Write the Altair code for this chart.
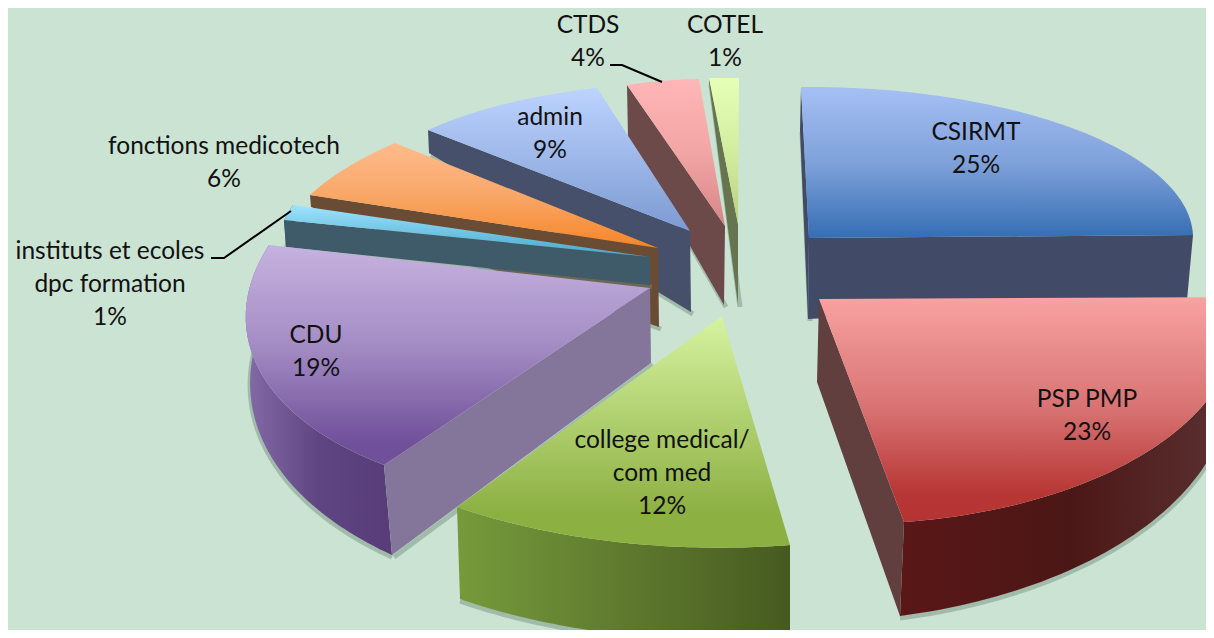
import numpy as np
import pandas as pd
import altair as alt

BG = "#cbe3d3"
FONT = "Lato"

categories = ["COTEL", "CTDS", "admin", "fonctions medicotech", "instituts et ecoles dpc formation",
              "CDU", "CSIRMT", "college medical/ com med", "PSP PMP"]
percents = [1, 4, 9, 6, 1, 19, 25, 12, 23]
# clockwise order of the pie, from 12 o'clock
pie_order = ["CSIRMT", "PSP PMP", "college medical/ com med", "CDU", "instituts et ecoles dpc formation",
             "fonctions medicotech", "admin", "CTDS", "COTEL"]

label_lines = {
    "CSIRMT": ["CSIRMT"], "PSP PMP": ["PSP PMP"], "college medical/ com med": ["college medical/", "com med"],
    "CDU": ["CDU"], "instituts et ecoles dpc formation": ["instituts et ecoles", "dpc formation"],
    "fonctions medicotech": ["fonctions medicotech"], "admin": ["admin"], "CTDS": ["CTDS"], "COTEL": ["COTEL"],
}
label_pos = {
    "CSIRMT": (976, 133), "PSP PMP": (1087, 400), "college medical/ com med": (662, 441), "CDU": (316, 336),
    "instituts et ecoles dpc formation": (110, 252), "fonctions medicotech": (224, 147), "admin": (550, 118),
    "CTDS": (588, 26), "COTEL": (725, 26),
}

# perspective view of each exploded slice: apex, rim ends, and depth vectors
view = {
    "CSIRMT": dict(a=(809, 238), s=(801, 87), e=(1193, 235), da=(-1, 81), ds=(-1, 43), de=(-6, 65),
                   faces="se", rim=False, face="#414a66", rimc=["#414a66", "#414a66"],
                   top=[(0, "#a5c0f4"), (.5, "#7fa1da"), (1, "#356eb4")]),
    "PSP PMP": dict(a=(819, 299), s=(1239, 297), e=(904, 522), da=(-2, 83), ds=(-8, 60), de=(-4, 94),
                    faces="e", rim=True, face="#623f3f", rimc=["#5a1717", "#4b1716", "#5c3333"],
                    top=[(0, "#f9a2a2"), (.5, "#d87272"), (.87, "#b73735"), (1, "#b53433")]),
    "college medical/ com med": dict(a=(722, 316), s=(790, 545), e=(457, 507), da=(0, 80), ds=(0, 92), de=(3, 92),
                    faces="", rim=True, face="#6f8a3a", rimc=["#769a3b", "#5f7a2e", "#465a20"],
                    top=[(0, "#d6f3a0"), (.85, "#8db043"), (1, "#8db043")]),
    "CDU": dict(a=(650, 288), s=(384, 465), e=(269, 245), da=(1, 75), ds=(8, 90), de=(3, 60),
                faces="s", rim=True, face="#83769a", rimc=["#846aa6", "#5f4582", "#573c78"],
                top=[(0, "#c6b2e0"), (.45, "#a48dc4"), (.9, "#70509a"), (1, "#70509a")]),
    "instituts et ecoles dpc formation": dict(a=(650, 257), s=(284, 220), e=(293, 205), da=(0, 28), ds=(2, 27), de=(2, 20),
                faces="s", rim=True, face="#3f5a68", rimc=["#3f5a68", "#3f5a68"],
                top=[(0, "#a0e3ff"), (1, "#45a8c8")]),
    "fonctions medicotech": dict(a=(658, 248), s=(310, 195), e=(395, 143), da=(1, 79), ds=(1, 12), de=(0, 8),
                faces="s", rim=False, face="#6a4c35", rimc=["#6a4c35", "#6a4c35"],
                top=[(0, "#ffbb8c"), (.5, "#f9a768"), (1, "#f58526")]),
    "admin": dict(a=(690, 231), s=(428, 130), e=(597, 88), da=(1, 81), ds=(1, 23), de=(0, 15),
                faces="s", rim=False, face="#46506a", rimc=["#46506a", "#46506a"],
                top=[(0, "#bdd3ff"), (1, "#7c9bd2")]),
    "CTDS": dict(a=(725, 226), s=(627, 85), e=(699, 79), da=(-1, 79), ds=(1, 53), de=(0, 40),
                faces="s", rim=False, face="#6c4a4a", rimc=["#6c4a4a", "#6c4a4a"],
                top=[(0, "#ffb6b6"), (.5, "#f2a5a5"), (1, "#d78585")]),
    "COTEL": dict(a=(738, 224), s=(709, 78), e=(739, 78), da=(0, 81), ds=(0, 5), de=(0, 5),
                faces="s", rim=False, face="#66744f", rimc=["#66744f", "#66744f"],
                top=[(0, "#e6ffb6"), (.5, "#d3eda0"), (1, "#b9cf80")]),
}
leaders = {"CTDS": [(610, 65), (622, 65), (662, 82)], "instituts": [(211, 258), (224, 258), (291, 211)]}

value_of = dict(zip(categories, percents))
bounds = {}
acc = 0.0
for name in pie_order:
    bounds[name] = (acc * 3.6, (acc + value_of[name]) * 3.6)
    acc += value_of[name]

xs = alt.Scale(domain=[8, 1206], nice=False, zero=False)
ys = alt.Scale(domain=[630, 8], nice=False, zero=False)


def rim_arc(name, n=60):
    v = view[name]
    t0, t1 = np.radians(bounds[name])
    a, s, e = map(np.array, (v["a"], v["s"], v["e"]))
    # linear map that sends the circle's two slice ends onto the drawn rim ends
    M = np.array([[np.sin(t0), -np.cos(t0)], [np.sin(t1), -np.cos(t1)]])
    UV = np.linalg.solve(M, np.vstack([s - a, e - a]))
    tt = np.linspace(t0, t1, n)
    pts = a + np.column_stack([np.sin(tt), -np.cos(tt)]) @ UV
    f = np.linspace(0, 1, n)[:, None]
    ext = (1 - f) * np.array(v["ds"]) + f * np.array(v["de"])
    return pts, pts + ext


def poly(points, fill, closed=True):
    pts = [tuple(p) for p in points]
    if closed:
        pts.append(pts[0])
    df = pd.DataFrame(pts, columns=["x", "y"])
    df["i"] = range(len(df))
    return alt.Chart(df).mark_line(fill=fill, stroke="transparent", strokeWidth=0, interpolate="linear", clip=True).encode(
        x=alt.X("x:Q", scale=xs, axis=None),
        y=alt.Y("y:Q", scale=ys, axis=None),
        order="i:Q",
    )


def shadow(points):
    df = pd.DataFrame([tuple(p) for p in points], columns=["x", "y"])
    df["i"] = range(len(df))
    return alt.Chart(df).mark_line(stroke="#6f8a7a", strokeWidth=5, opacity=.45, clip=True).encode(
        x=alt.X("x:Q", scale=xs, axis=None), y=alt.Y("y:Q", scale=ys, axis=None), order="i:Q")


def grad(stops, horizontal=False):
    return alt.Gradient(
        gradient="linear",
        stops=[alt.GradientStop(offset=o, color=c) for o, c in stops],
        x1=0, x2=1 if horizontal else 0, y1=0, y2=0 if horizontal else 1,
    )


layers = []
for name in categories:
    v = view[name]
    top_rim, low_rim = rim_arc(name)
    a = np.array(v["a"], float)
    a2 = a + np.array(v["da"])
    parts = []
    if v["rim"]:
        k = len(v["rimc"])
        stops = [(i / (k - 1), c) for i, c in enumerate(v["rimc"])]
        parts.append(shadow(low_rim + np.array([0, 2])))
        parts.append(poly(list(top_rim) + list(low_rim[::-1]), grad(stops, horizontal=True)))
    if "s" in v["faces"]:
        parts.append(shadow([a2 + np.array([2, 2]), low_rim[0] + np.array([2, 2])]))
        parts.append(poly([a, top_rim[0], low_rim[0], a2], v["face"]))
    if "e" in v["faces"]:
        parts.append(poly([a, top_rim[-1], low_rim[-1], a2], v["face"]))
    parts.append(poly([a] + list(top_rim), grad(v["top"])))
    layers.extend(parts)

for pts in leaders.values():
    df = pd.DataFrame(pts, columns=["x", "y"])
    df["i"] = range(len(df))
    layers.append(alt.Chart(df).mark_line(stroke="black", strokeWidth=2).encode(
        x=alt.X("x:Q", scale=xs, axis=None), y=alt.Y("y:Q", scale=ys, axis=None), order="i:Q"))

rows = []
for name in categories:
    x0, y0 = label_pos[name]
    for j, line in enumerate(label_lines[name] + [f"{value_of[name]}%"]):
        rows.append({"x": x0, "y": y0 + j * 33, "t": line})
layers.append(alt.Chart(pd.DataFrame(rows)).mark_text(font=FONT, fontSize=24.5, color="#111111", align="center", baseline="middle").encode(
    x=alt.X("x:Q", scale=xs, axis=None), y=alt.Y("y:Q", scale=ys, axis=None), text="t:N"))

chart = alt.layer(*layers).properties(
    width=1198, height=622, background=BG, padding=0,
    autosize=alt.AutoSizeParams(type="none"),
).configure_view(stroke=None)

chart.save("out.html", embed_options={"renderer": "svg", "actions": False})
